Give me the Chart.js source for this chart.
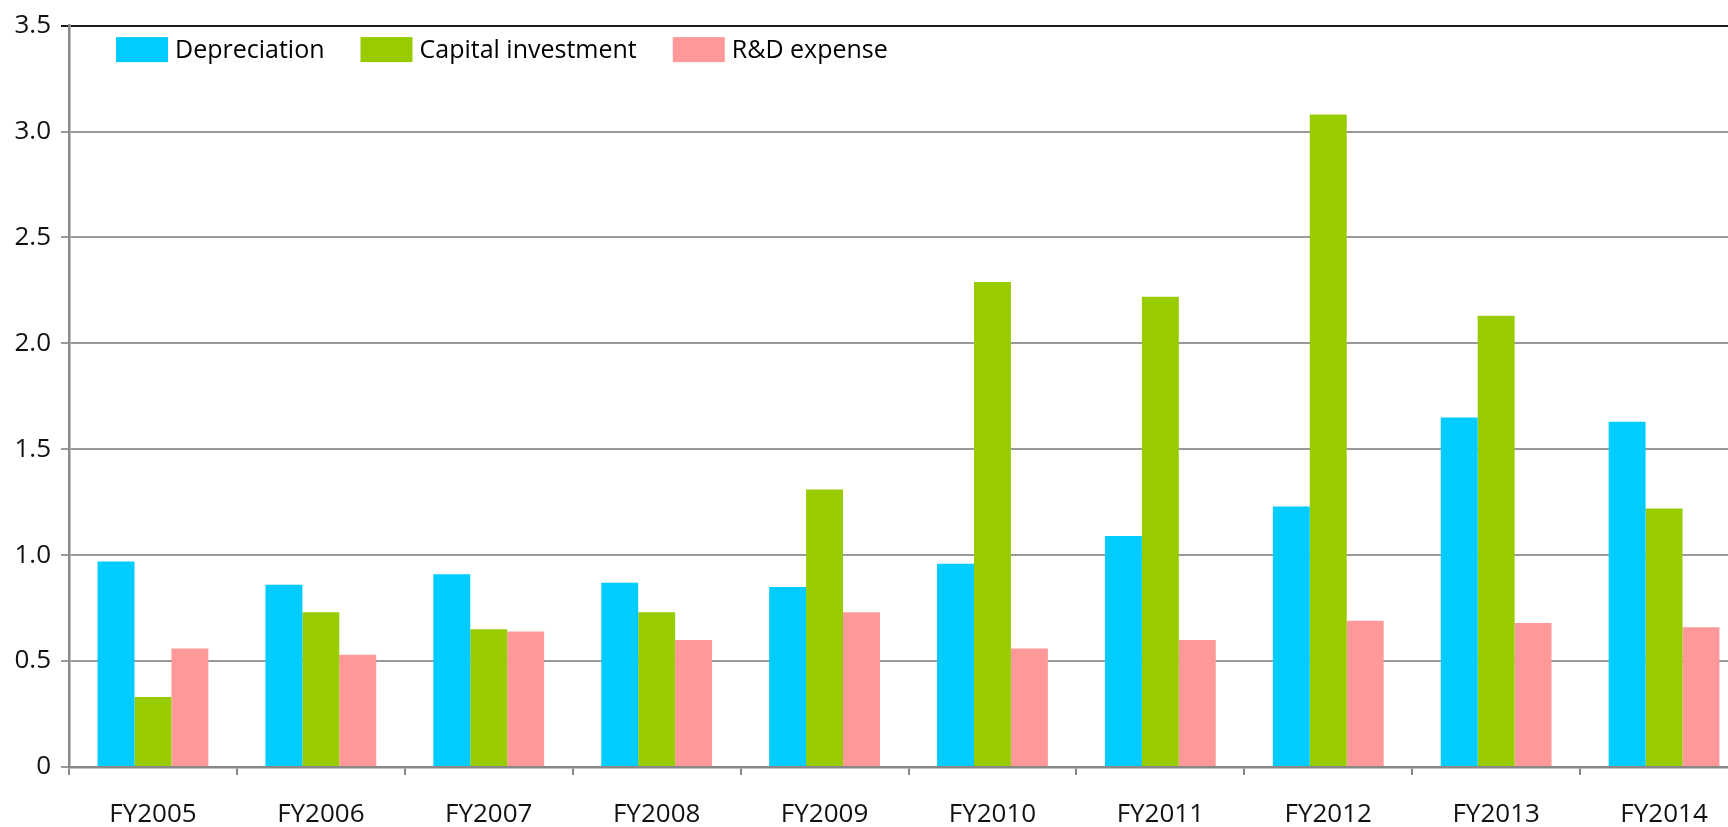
<!DOCTYPE html>
<html>
<head>
<meta charset="utf-8">
<script src="https://cdn.jsdelivr.net/npm/chart.js@4.4.0/dist/chart.umd.min.js"></script>
<style>
  html, body { margin: 0; padding: 0; background: #fff; overflow: hidden; }
  #wrap { width: 1760px; height: 827px; }
</style>
</head>
<body>
<div id="wrap"><canvas id="c" width="1760" height="827"></canvas></div>
<script>
const categories = ["FY2005","FY2006","FY2007","FY2008","FY2009","FY2010","FY2011","FY2012","FY2013","FY2014"];
const depreciation = [0.97, 0.86, 0.91, 0.87, 0.85, 0.96, 1.09, 1.23, 1.65, 1.63];
const capitalInvestment = [0.33, 0.73, 0.65, 0.73, 1.31, 2.29, 2.22, 3.08, 2.13, 1.22];
const rdExpense = [0.56, 0.53, 0.64, 0.60, 0.73, 0.56, 0.60, 0.69, 0.68, 0.66];
const seriesNames = ["Depreciation", "Capital investment", "R&D expense"];
const seriesColors = ["#00CCFF", "#99CC00", "#FF9999"];
const yTicks = [0, 0.5, 1.0, 1.5, 2.0, 2.5, 3.0, 3.5];

const FONT = "'Open Sans', 'Noto Sans', sans-serif";

const insideLegend = {
  id: 'insideLegend',
  afterDraw(chart) {
    const ctx = chart.ctx;
    const area = chart.chartArea;
    ctx.save();
    ctx.font = "25px " + FONT;
    ctx.textBaseline = 'middle';
    let x = area.left + 47;
    const y = area.top + 11.5;
    const bw = 52, bh = 25;
    chart.data.datasets.forEach((ds) => {
      ctx.fillStyle = ds.backgroundColor;
      ctx.fillRect(x, y, bw, bh);
      ctx.fillStyle = '#000';
      ctx.textAlign = 'left';
      ctx.fillText(ds.label, x + bw + 7, y + bh / 2 + 1);
      x += bw + 7 + ctx.measureText(ds.label).width + 36;
    });
    ctx.restore();
  }
};

const datasets = [depreciation, capitalInvestment, rdExpense].map((vals, i) => ({
  label: seriesNames[i],
  data: vals,
  backgroundColor: seriesColors[i],
  borderWidth: 0,
  categoryPercentage: 0.66,
  barPercentage: 1.0
}));

new Chart(document.getElementById('c'), {
  type: 'bar',
  data: { labels: categories, datasets },
  plugins: [insideLegend],
  options: {
    responsive: false,
    animation: false,
    layout: { padding: { top: 24, right: 12, left: 0, bottom: 0 } },
    plugins: {
      legend: { display: false },
      tooltip: { enabled: false }
    },
    scales: {
      x: {
        grid: {
          offset: true,
          drawOnChartArea: false,
          drawTicks: true,
          tickLength: 8,
          color: '#888',
          lineWidth: 2
        },
        border: { color: '#888', width: 2.5 },
        ticks: {
          color: '#111',
          font: { family: FONT, size: 26 },
          padding: 24,
          maxRotation: 0,
          autoSkip: false
        },
        afterFit(s) { s.height = 60; }
      },
      y: {
        min: 0,
        max: 3.5,
        afterBuildTicks(s) { s.ticks = yTicks.map(v => ({ value: v })); },
        grid: {
          color: (c) => (c.tick && c.tick.value === 3.5) ? '#1a1a1a' : '#999',
          lineWidth: 2,
          drawTicks: true,
          tickLength: 8
        },
        border: { color: '#888', width: 2.5 },
        ticks: {
          color: '#111',
          font: { family: FONT, size: 26 },
          padding: 10,
          callback: (v) => v === 0 ? '0' : Number(v).toFixed(1)
        },
        afterFit(s) { s.width = 69; }
      }
    }
  }
});
</script>
</body>
</html>
